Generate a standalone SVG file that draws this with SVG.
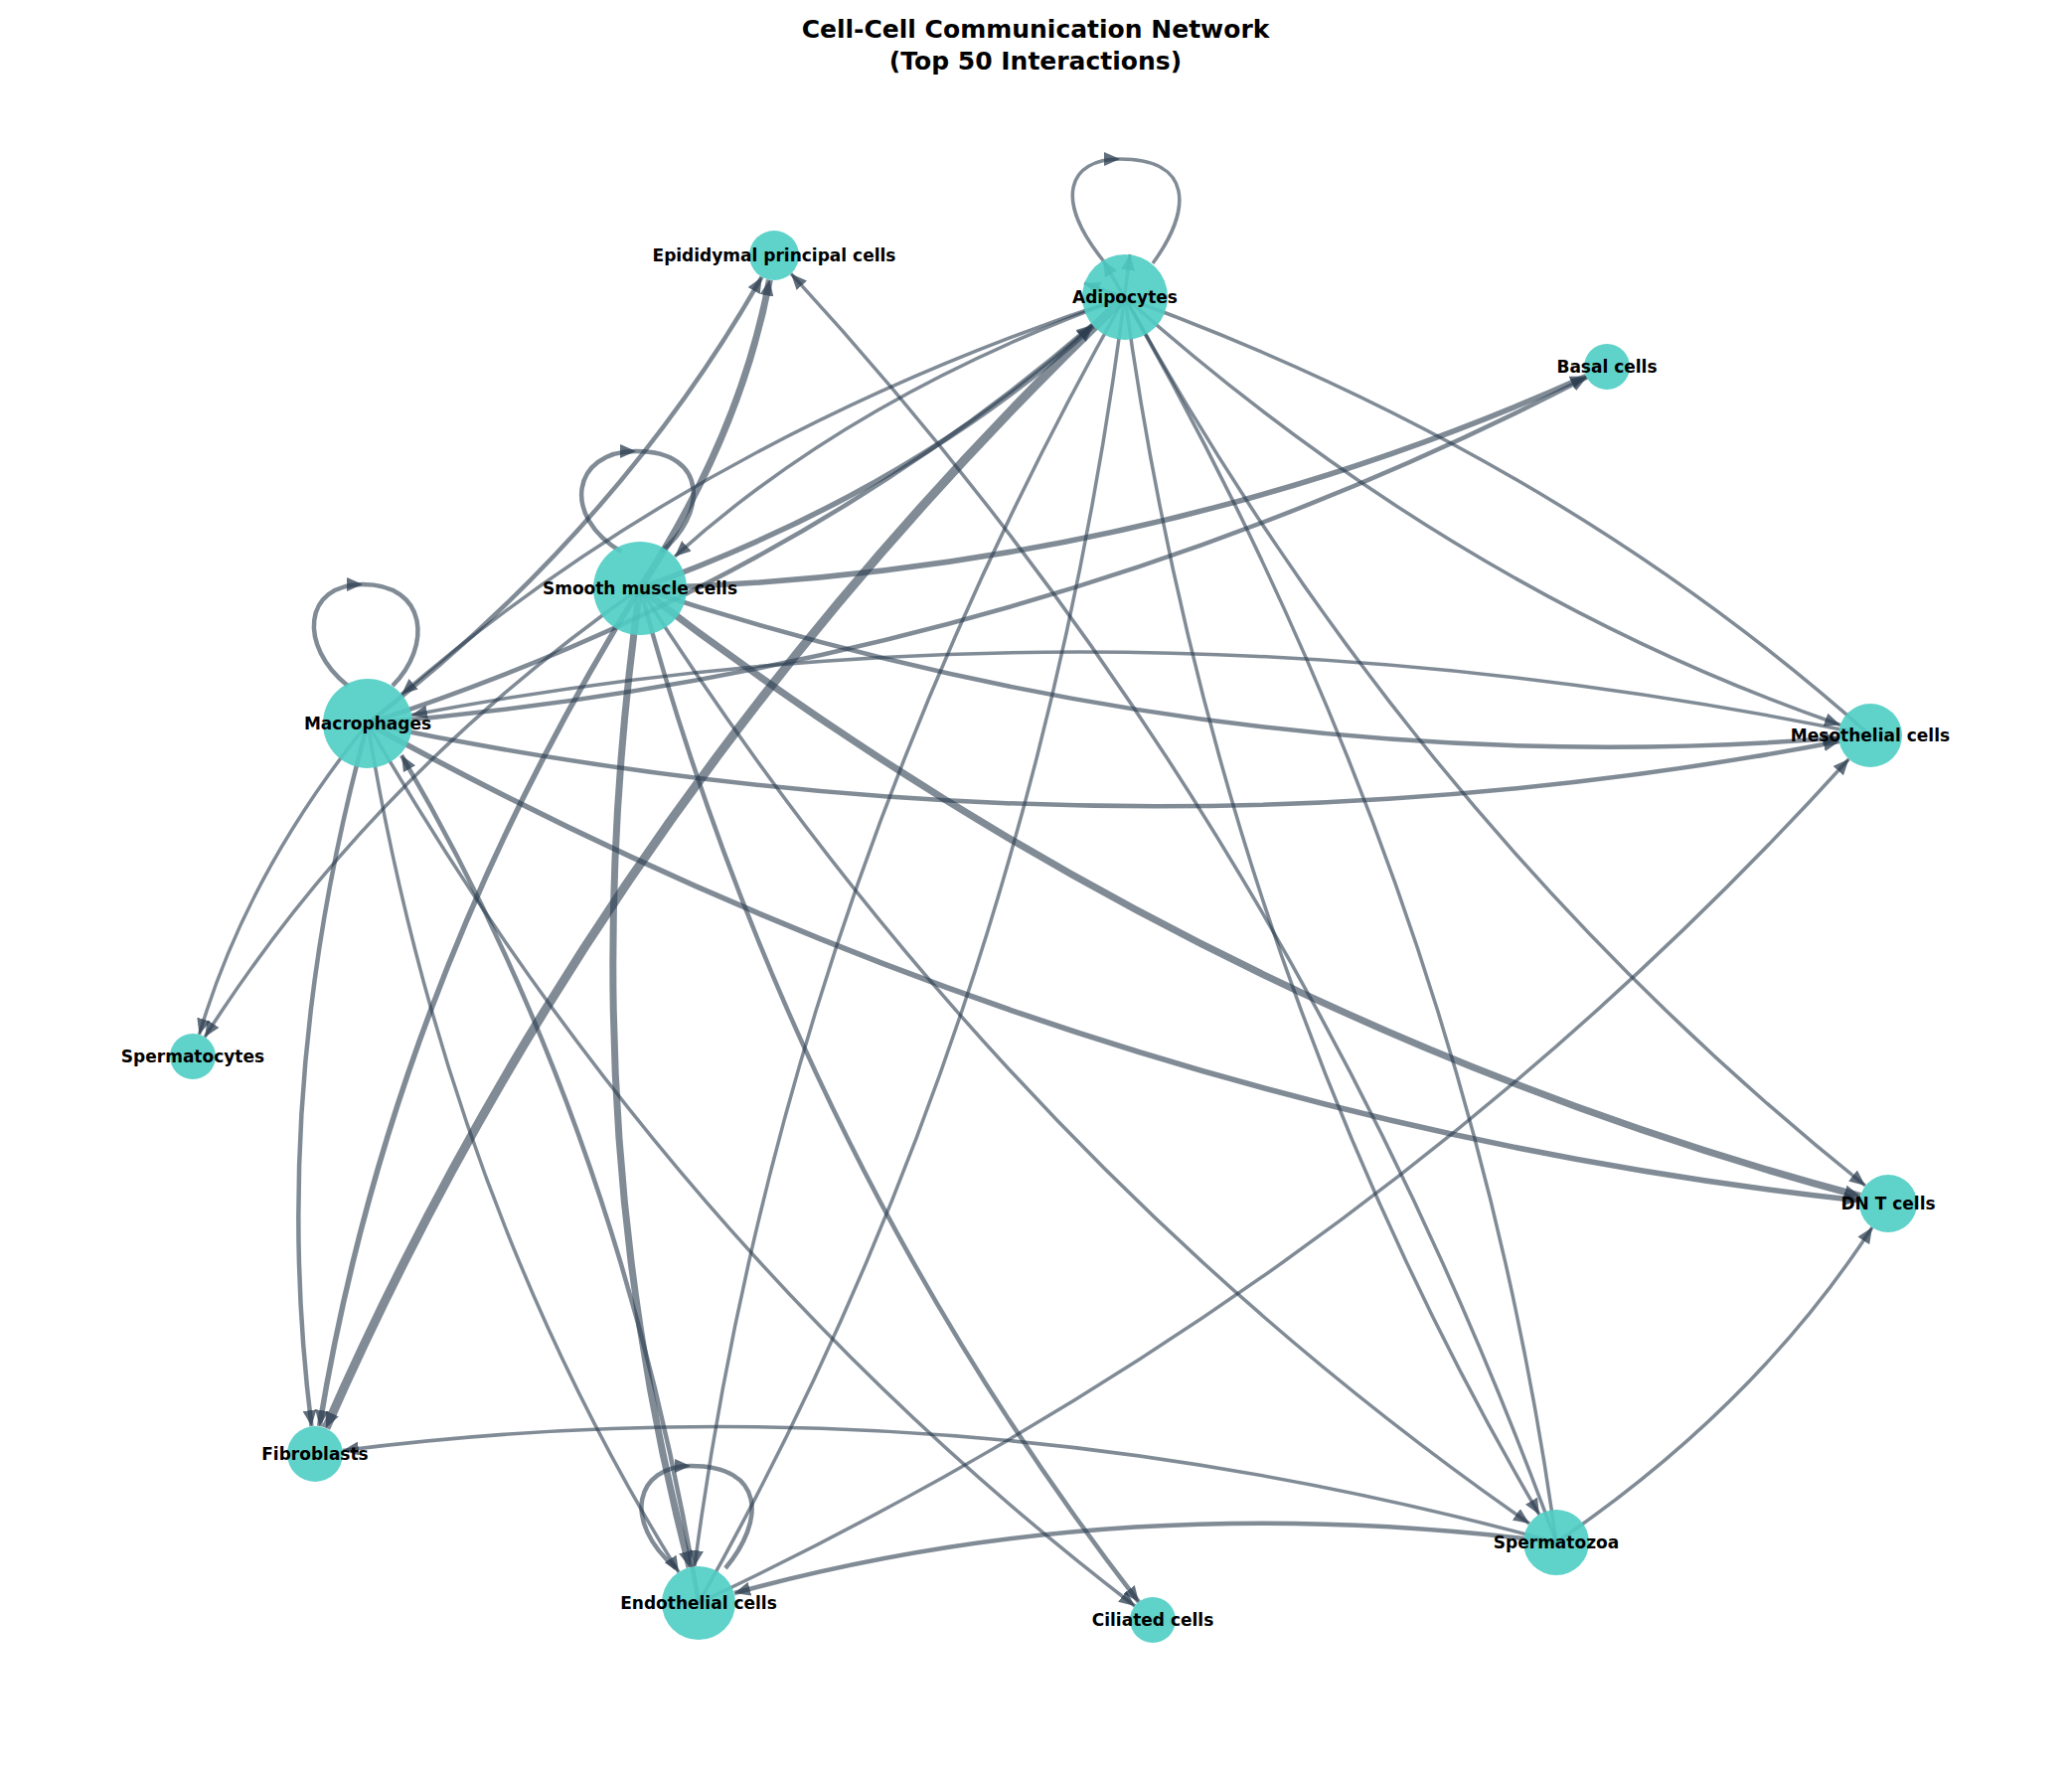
<svg xmlns="http://www.w3.org/2000/svg" width="2085" height="1783" viewBox="0 0 2085 1783">
<style>
.e{fill:none;stroke:#2c3e50;stroke-opacity:0.6;stroke-width:3.5;marker-end:url(#ah)}
.l{fill:none;stroke:#2c3e50;stroke-opacity:0.6;stroke-width:3.5;marker-mid:url(#ah)}
.w4{stroke-width:4.5}.w5{stroke-width:5.5}.w6{stroke-width:7}.w8{stroke-width:9}
.n{fill:#4ecdc4;fill-opacity:0.9}
.t{font-family:"DejaVu Sans",sans-serif;font-weight:bold;font-size:17px;fill:#000;text-anchor:middle;dominant-baseline:central}
.h{font-family:"DejaVu Sans",sans-serif;font-weight:bold;font-size:25px;fill:#000;text-anchor:middle}
</style>
<defs>
<marker id="ah" markerUnits="userSpaceOnUse" markerWidth="18" markerHeight="14" refX="16" refY="7" orient="auto">
<path d="M0,0 L16,7 L0,14 Z" fill="#2c3e50" fill-opacity="0.75"/>
</marker>
</defs>
<rect width="2085" height="1783" fill="#fff"/>
<text class="h" x="1042" y="38">Cell-Cell Communication Network</text>
<text class="h" x="1042" y="70">(Top 50 Interactions)</text>
<g id="edges">
<path class="l" d="M1110,262 C1060,200 1075,160 1127,160 C1200,160 1200,210 1160,265"/>
<path class="l w4" d="M625,555 C565,520 575,454 640,454 C715,454 710,520 665,555"/>
<path class="l w4" d="M350,690 C300,650 305,588 365,588 C430,588 435,650 395,690"/>
<path class="l w4" d="M680,1578 C625,1530 640,1475 695,1475 C770,1475 770,1530 730,1578"/>
<path class="e w4" d="M370,728 Q621.6,533.4 766.6,278.7"/>
<path class="e w6" d="M644,592 Q745,438 774.4,281.6"/>
<path class="e" d="M1566,1552 Q1302,826 796,275.4"/>
<path class="e" d="M1132,299 Q708,437 404,698.7"/>
<path class="e w4" d="M370,728 Q794,590 1099,327"/>
<path class="e w5" d="M644,592 Q917,494 1100,328"/>
<path class="e" d="M1132,299 Q859,397 679,560"/>
<path class="e w8" d="M1132,299 Q608,799.5 328,1437"/>
<path class="e" d="M1132,299 Q1463,594.5 1852,729.5"/>
<path class="e" d="M1882,740 Q1551,444.5 1091,285"/>
<path class="e" d="M1132,299 Q1425,832 1877,1193"/>
<path class="e" d="M1132,299 Q1224,969 1549,1524"/>
<path class="e" d="M1566,1552 Q1474,882 1110,262"/>
<path class="e" d="M703,1613 Q1049,999 1137,256"/>
<path class="e" d="M1132,299 Q786,913 699,1576"/>
<path class="e w5" d="M644,592 Q1153,578 1596,378.5"/>
<path class="e w4" d="M370,728 Q1029,673 1597,379.6"/>
<path class="e w4" d="M644,592 Q1248,790 1850,742.5"/>
<path class="e w4" d="M370,728 Q1125,885 1851,746"/>
<path class="e" d="M1882,740 Q1127,583 414,719.5"/>
<path class="e w6" d="M644,592 Q1210,1027 1872,1203.5"/>
<path class="e w5" d="M370,728 Q1087,1122.5 1871,1208"/>
<path class="e" d="M370,728 Q248.5,878 200.5,1041"/>
<path class="e" d="M644,592 Q372,782.5 206,1043.6"/>
<path class="e w4" d="M370,728 Q270,1090 313.5,1435"/>
<path class="e w5" d="M644,592 Q393.5,995 321.5,1435"/>
<path class="e" d="M370,728 Q448,1204 683,1582"/>
<path class="e w6" d="M644,592 Q571,1108 694,1577"/>
<path class="e w4" d="M703,1613 Q625,1137 404,760"/>
<path class="e" d="M370,728 Q675,1258 1142,1616"/>
<path class="e w4" d="M644,592 Q798,1163 1146,1612"/>
<path class="e" d="M644,592 Q1009,1164 1539,1533"/>
<path class="e" d="M703,1613 Q1380,1294 1860.5,763.7"/>
<path class="e w4" d="M1566,1552 Q1128,1496 739,1603"/>
<path class="e" d="M1566,1552 Q950,1382.6 345,1459.5"/>
<path class="e" d="M1566,1552 Q1767,1415 1884,1235"/>
</g>
<g id="n-adipocytes"><circle class="n" cx="1132" cy="299" r="43"/><text class="t" x="1132" y="299">Adipocytes</text></g>
<g id="n-epididymal"><circle class="n" cx="779" cy="257" r="25"/><text class="t" x="779" y="257">Epididymal principal cells</text></g>
<g id="n-basal"><circle class="n" cx="1617" cy="369" r="23"/><text class="t" x="1617" y="369">Basal cells</text></g>
<g id="n-smooth"><circle class="n" cx="644" cy="592" r="47"/><text class="t" x="644" y="592">Smooth muscle cells</text></g>
<g id="n-macrophages"><circle class="n" cx="370" cy="728" r="45"/><text class="t" x="370" y="728">Macrophages</text></g>
<g id="n-mesothelial"><circle class="n" cx="1882" cy="740" r="32"/><text class="t" x="1882" y="740">Mesothelial cells</text></g>
<g id="n-spermatocytes"><circle class="n" cx="194" cy="1063" r="23"/><text class="t" x="194" y="1063">Spermatocytes</text></g>
<g id="n-dnt"><circle class="n" cx="1900" cy="1211" r="29"/><text class="t" x="1900" y="1211">DN T cells</text></g>
<g id="n-fibroblasts"><circle class="n" cx="317" cy="1463" r="28"/><text class="t" x="317" y="1463">Fibroblasts</text></g>
<g id="n-spermatozoa"><circle class="n" cx="1566" cy="1552" r="33"/><text class="t" x="1566" y="1552">Spermatozoa</text></g>
<g id="n-endothelial"><circle class="n" cx="703" cy="1613" r="37"/><text class="t" x="703" y="1613">Endothelial cells</text></g>
<g id="n-ciliated"><circle class="n" cx="1160" cy="1630" r="23"/><text class="t" x="1160" y="1630">Ciliated cells</text></g>
</svg>
